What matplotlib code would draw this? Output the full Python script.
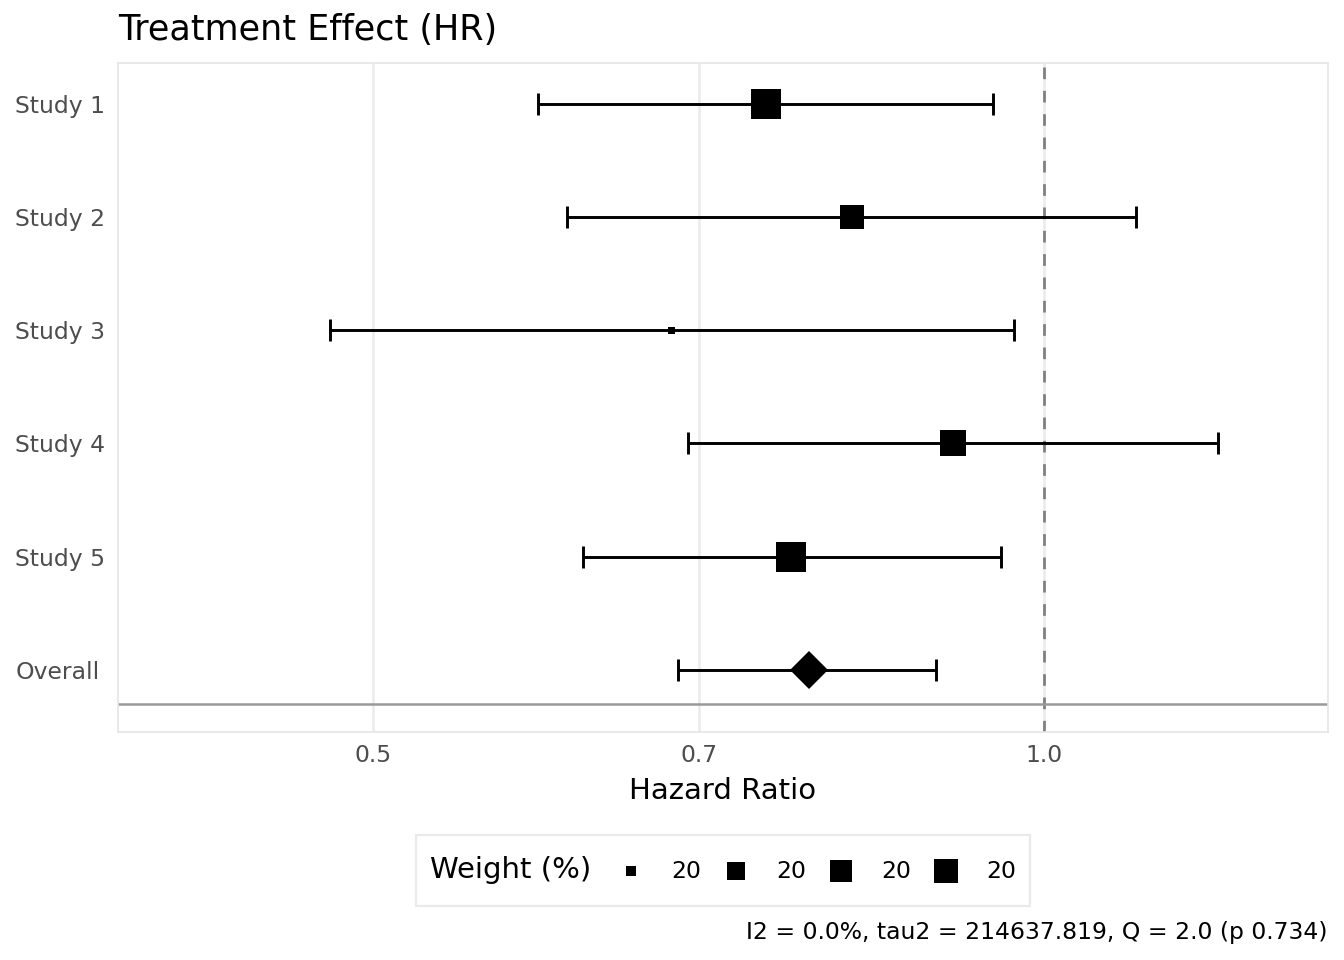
import matplotlib.pyplot as plt
from matplotlib.lines import Line2D
from matplotlib.offsetbox import HPacker
from matplotlib.ticker import NullLocator

# study level results (hazard ratio + 95% CI) and weights
studies = ['Study 1', 'Study 2', 'Study 3', 'Study 4', 'Study 5']
hr = [0.750, 0.820, 0.680, 0.910, 0.770]
lower = [0.593, 0.611, 0.478, 0.692, 0.621]
upper = [0.949, 1.100, 0.969, 1.197, 0.956]
weight = [20.36, 20.10, 19.40, 20.23, 20.40]

overall_hr = 0.784
overall_lower = 0.685
overall_upper = 0.894

legend_breaks = [19.57, 19.88, 20.01, 20.14]
x_ticks = [0.5, 0.7, 1.0]
caption = 'I2 = 0.0%, tau2 = 214637.819, Q = 2.0 (p 0.734)'

plt.rcParams['font.family'] = 'DejaVu Sans'


def size_pt(w):
    # weight -> side of square marker (points)
    frac = (w - min(weight)) / (max(weight) - min(weight))
    return (7 + frac * 23) * 0.72


fig = plt.figure(figsize=(13.44, 9.6), dpi=100)
ax = fig.add_axes([118 / 1344, 1 - 732 / 960, (1328 - 118) / 1344, (732 - 63) / 960])

n = len(studies)
y_study = list(range(n + 1, 1, -1))
y_all = y_study + [1]
labels = studies + ['Overall']

for xv in x_ticks:
    ax.axvline(xv, color='#EBEBEB', lw=1.8, zorder=0)
ax.axvline(1.0, color='#808080', lw=2.0, ls=(0, (4.2, 4.2)), zorder=1)
ax.axhline(0.7, color='#999999', lw=1.8, zorder=1)

err_lo = [h - l for h, l in zip(hr, lower)]
err_hi = [u - h for h, u in zip(hr, upper)]
ax.errorbar(hr, y_study, xerr=[err_lo, err_hi], fmt='none', ecolor='black',
            elinewidth=2.1, capsize=8, capthick=2.1, zorder=2)
for h, yv, w in zip(hr, y_study, weight):
    ax.plot(h, yv, marker='s', ms=size_pt(w), color='black', mew=0, zorder=3)

ax.errorbar([overall_hr], [1], xerr=[[overall_hr - overall_lower], [overall_upper - overall_hr]],
            fmt='none', ecolor='black', elinewidth=2.1, capsize=8, capthick=2.1, zorder=2)
ax.plot(overall_hr, 1, marker='D', ms=19.3, color='black', mew=0, zorder=3)

ax.set_xscale('log')
ax.set_xlim(0.384, 1.341)
ax.set_ylim(0.45, 6.36)
ax.xaxis.set_minor_locator(NullLocator())
ax.set_xticks(x_ticks)
ax.set_xticklabels(['%.1f' % t for t in x_ticks])
ax.set_yticks(y_all)
ax.set_yticklabels(labels, ha='left')
ax.tick_params(axis='both', length=0, labelsize=16.9, labelcolor='#4D4D4D')
ax.tick_params(axis='y', pad=74)
ax.tick_params(axis='x', pad=9)
for s in ax.spines.values():
    s.set_color('#E5E5E5')
    s.set_linewidth(1.2)
ax.set_xlabel('Hazard Ratio', fontsize=21.0, labelpad=7)

fig.text(118 / 1344, 1 - 30 / 960, 'Treatment Effect (HR)', fontsize=25.2, va='center', ha='left')
fig.text(1328 / 1344, 1 - 932 / 960, caption, fontsize=16.9, va='center', ha='right')

# legend: title on the left of the keys (ggplot style)
leg_fs = 16.9
leg_hh = 2.4
handles = [Line2D([], [], ls='none', marker='s', ms=size_pt(b), color='black', mew=0)
           for b in legend_breaks]
leg = fig.legend(handles, ['%.0f' % b for b in legend_breaks], loc='center',
                 bbox_to_anchor=(723 / 1344, 1 - 870.5 / 960), ncol=4, title='Weight (%)',
                 fontsize=leg_fs, title_fontsize=21.0, frameon=True, fancybox=False,
                 edgecolor='#E5E5E5', handlelength=1.0, handleheight=leg_hh, handletextpad=1.2,
                 columnspacing=1.0, borderpad=0.6)
leg.get_frame().set_linewidth(1.6)
leg._legend_box.__class__ = HPacker
leg._legend_box.sep = 20
shift = 0.175 * leg_fs * (leg_hh - 0.7)
for lh in leg.legend_handles:
    lh.set_ydata([v - shift for v in lh.get_ydata()])

fig.savefig('out.png', dpi=100)
